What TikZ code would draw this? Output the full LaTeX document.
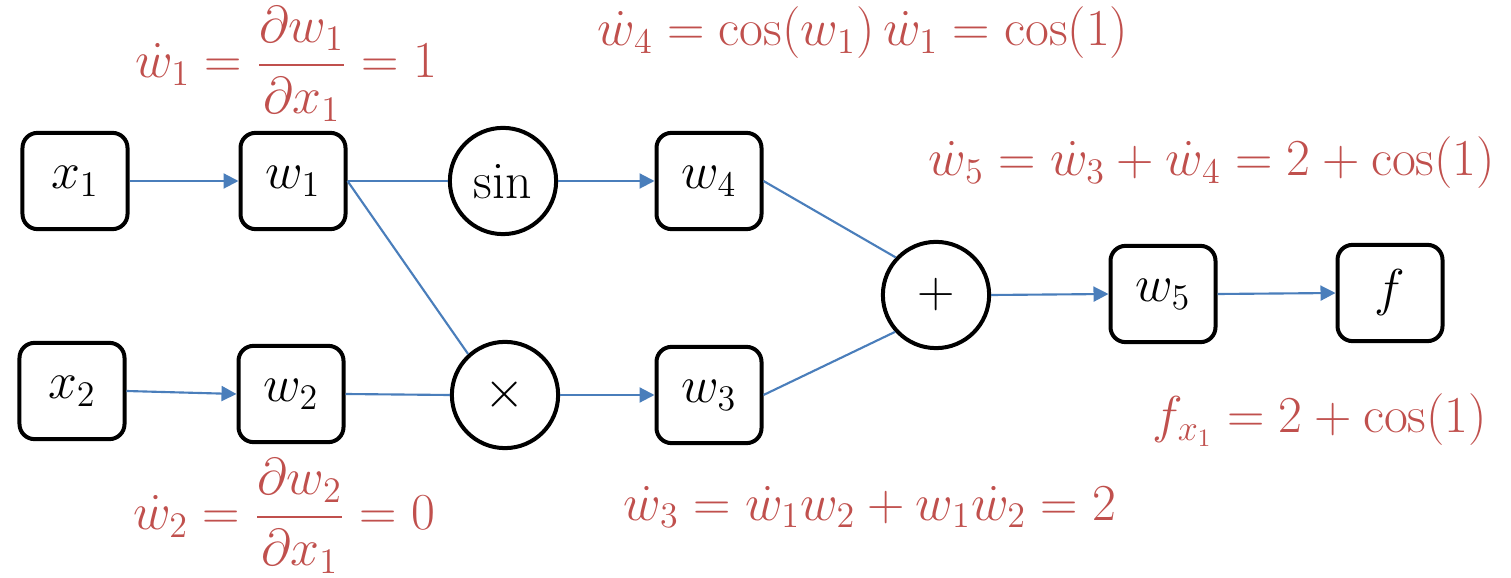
\documentclass[tikz,border=0pt]{standalone}
\usepackage{amsmath}
\usetikzlibrary{arrows.meta}
\definecolor{linkblue}{HTML}{4A7EBB}
\definecolor{labred}{HTML}{C0504D}
\tikzset{
  valbox/.style={draw=black, line width=1.6pt, rounded corners=6pt, minimum width=42pt, minimum height=38.5pt, inner sep=0pt, font=\fontsize{21}{25}\selectfont},
  opcirc/.style={draw=black, line width=1.6pt, circle, minimum size=42.5pt, inner sep=0pt, font=\fontsize{21}{25}\selectfont},
  link/.style={draw=linkblue, line width=0.85pt},
  arrowlink/.style={link, -{Triangle[length=6pt,width=6pt]}},
  lab/.style={text=labred, inner sep=0pt, font=\fontsize{20}{24}\selectfont}
}
\begin{document}
\begin{tikzpicture}[x=0.4pt,y=-0.4pt]
\useasboundingbox (0,0) rectangle (1511,578);
% nodes
\node[valbox] (x1) at (75,181) {$x_1$};
\node[valbox] (w1) at (293,181) {$w_1$};
\node[opcirc] (sin) at (503,181) {$\sin$};
\node[valbox] (w4) at (709,181) {$w_4$};
\node[valbox] (x2) at (72,391) {$x_2$};
\node[valbox] (w2) at (291,394) {$w_2$};
\node[opcirc] (mul) at (505,395) {$\times$};
\node[valbox] (w3) at (709,395) {$w_3$};
\node[opcirc] (plus) at (936,295) {$+$};
\node[valbox] (w5) at (1163,294) {$w_5$};
\node[valbox] (f) at (1390,293) {$f$};
% connectors
\draw[arrowlink] (x1.east) -- (w1.west);
\draw[link] (w1.east) -- (sin.west);
\draw[link] (w1.east) -- (mul.132);
\draw[arrowlink] (x2.east) -- (w2.west);
\draw[link] (w2.east) -- (mul.west);
\draw[arrowlink] (sin.east) -- (w4.west);
\draw[arrowlink] (mul.east) -- (w3.west);
\draw[link] (w4.east) -- (plus.137);
\draw[link] (w3.east) -- (plus.222);
\draw[arrowlink] (plus.east) -- (w5.west);
\draw[arrowlink] (w5.east) -- (f.west);
% labels
\node[lab] (l1) at (286,64) {$\dot{w}_1 = \dfrac{\partial w_1}{\partial x_1} = 1$};
\node[lab] (l4) at (863,33) {$\dot{w}_4 = \cos(w_1)\,\dot{w}_1 = \cos(1)$};
\node[lab] (l5) at (1212,163) {$\dot{w}_5 = \dot{w}_3 + \dot{w}_4 = 2 + \cos(1)$};
\node[lab] (lf) at (1320,420) {$f_{x_1} = 2 + \cos(1)$};
\node[lab] (l3) at (870,507) {$\dot{w}_3 = \dot{w}_1 w_2 + w_1 \dot{w}_2 = 2$};
\node[lab] (l2) at (284,516) {$\dot{w}_2 = \dfrac{\partial w_2}{\partial x_1} = 0$};
\end{tikzpicture}
\end{document}
